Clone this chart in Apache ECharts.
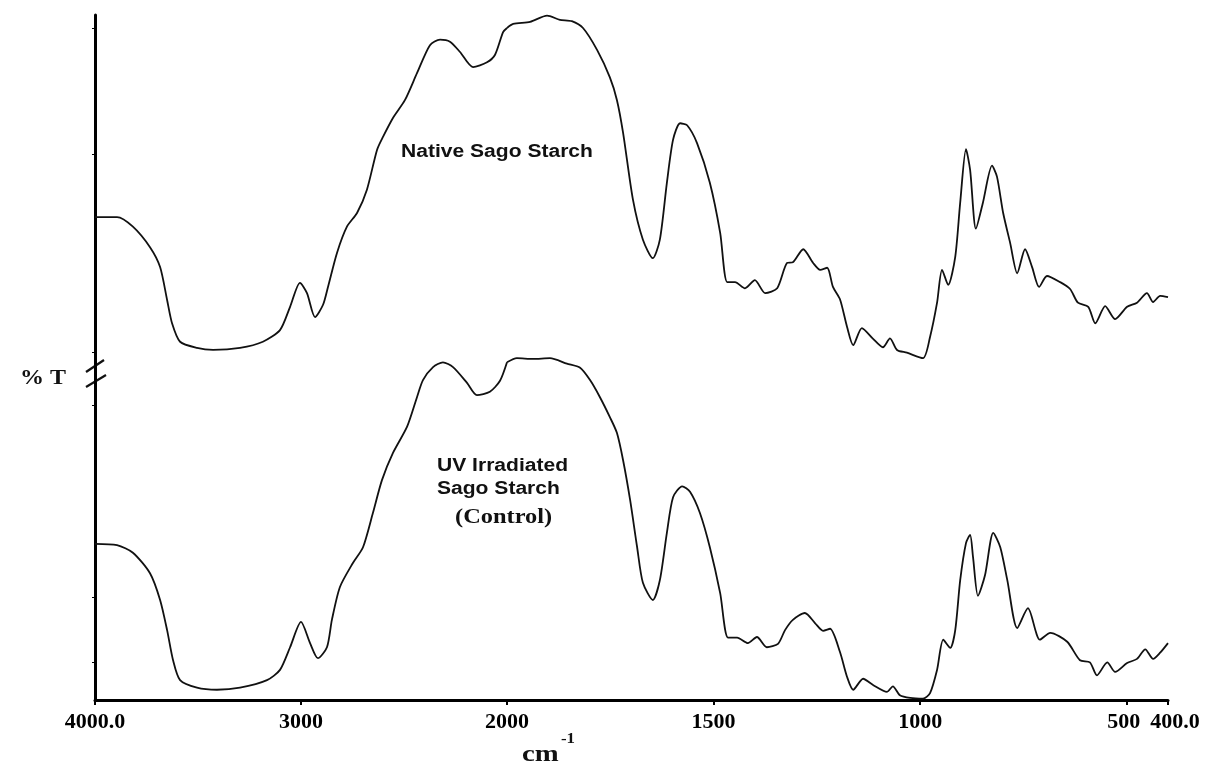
<!DOCTYPE html>
<html>
<head>
<meta charset="utf-8">
<script src="https://cdn.jsdelivr.net/npm/echarts@6/dist/echarts.min.js"></script>
<style>
html,body{margin:0;padding:0;background:#fff;}
#chart{width:1207px;height:769px;}
</style>
</head>
<body>
<div id="chart"></div>
<script>
// Wavenumbers (cm-1) and %T readings (relative scale, 0 = bottom axis, 100 = top of frame)
const nativeWn = [4000,3893,3816,3733,3684,3650,3626,3587,3505,3427,3296,3185,3102,3053,3005,2971,2932,2893,2869,2825,2777,2728,2680,2631,2602,2553,2495,2437,2374,2325,2277,2228,2165,2097,2058,2019,2000,1985,1944,1903,1872,1843,1816,1782,1751,1734,1719,1695,1671,1647,1630,1613,1598,1581,1564,1540,1509,1484,1467,1448,1424,1400,1375,1346,1322,1308,1283,1259,1242,1225,1211,1194,1177,1162,1141,1115,1090,1073,1056,1032,993,976,959,947,932,915,903,889,879,865,848,826,814,799,782,765,746,729,712,693,661,637,618,593,576,552,528,499,475,451,436,419,400];
const nativeT = [70.5,70.5,69.1,66.1,63.2,58.4,55.0,52.3,51.4,51.1,51.4,52.3,54.0,57.4,60.9,59.4,55.9,57.7,60.3,65.3,69.1,71.1,74.5,80.3,82.2,85.0,87.6,91.5,95.6,96.4,96.1,94.6,92.4,93.1,94.2,97.5,98.1,98.7,99.0,99.9,99.3,99.1,98.1,94.9,90.9,87.6,82.8,73.0,67.2,64.5,67.2,75.5,81.8,84.2,83.9,81.3,75.5,68.2,61.0,61.0,60.1,61.3,59.4,60.1,63.8,63.9,65.8,63.8,62.8,63.1,60.3,58.5,54.5,51.8,54.3,52.8,51.5,52.8,51.1,50.7,49.9,53.0,58.0,62.8,60.6,64.7,72.6,80.4,77.4,68.8,72.6,78.0,76.4,71.1,66.7,62.3,65.8,63.2,60.3,61.9,61.0,60.0,58.0,57.4,55.0,57.5,55.6,57.4,58.0,59.4,58.1,59.0,58.8];

const uvWn = [4000,3893,3816,3733,3684,3650,3621,3587,3505,3408,3296,3165,3102,3053,3000,2956,2918,2874,2850,2811,2748,2699,2651,2607,2553,2485,2437,2408,2359,2311,2262,2194,2146,2083,2034,2000,1976,1937,1896,1855,1823,1799,1775,1751,1734,1719,1702,1685,1671,1647,1630,1613,1598,1576,1557,1533,1509,1484,1465,1443,1417,1395,1371,1344,1327,1308,1279,1254,1235,1218,1194,1177,1162,1138,1114,1080,1066,1049,1024,993,976,959,944,927,915,903,889,879,872,860,843,823,806,789,765,739,710,685,644,613,589,572,547,528,499,475,455,436,419,400];
const uvT = [22.8,22.6,21.5,18.5,14.6,10.2,5.8,2.9,1.8,1.5,1.8,2.9,4.4,7.7,11.4,8.3,6.1,7.7,11.7,16.5,20.0,22.3,27.3,32.1,36.1,39.9,44.2,46.7,48.6,49.3,48.6,46.3,44.5,45.0,46.6,49.3,49.9,49.8,49.9,49.1,48.5,46.7,44.2,41.3,39.0,35.0,29.2,22.3,17.1,14.6,17.5,24.4,29.6,31.2,30.4,27.3,22.3,15.6,9.1,9.1,8.3,9.2,7.7,8.2,10.2,11.7,12.7,11.2,10.1,10.4,7.0,3.4,1.5,3.1,2.2,1.2,2.0,0.7,0.3,0.2,1.0,4.4,8.8,7.6,10.2,17.5,22.9,24.1,20.9,15.2,18.2,24.4,22.3,17.5,10.5,13.4,8.8,9.8,8.5,5.8,5.5,3.6,5.5,4.1,5.4,6.0,7.4,6.0,6.9,8.3];

const leftTicks = [4000, 3000, 2000];
const rightTicks = [1500, 1000, 500, 400];
const yTicks = [98.1, 79.7, 50.8, 43.1, 15.0, 5.5];
const labels = { upper: 'Native Sago Starch', lower1: 'UV Irradiated', lower2: 'Sago Starch', lower3: '(Control)', yName: '% T', xName: 'cm', xSup: '-1' };

function part(wn, t, highRange) {
  const out = [];
  for (let i = 0; i < wn.length; i++) {
    if (highRange ? wn[i] >= 2000 : wn[i] <= 2000) out.push([wn[i], t[i]]);
  }
  return out;
}

const chart = echarts.init(document.getElementById('chart'), null, { renderer: 'canvas' });
const ink = '#111';
const lineStyle = { color: ink, width: 1.8 };
const serif = 'Liberation Serif';

const axisLabelStyle = { color: '#000', fontFamily: serif, fontWeight: 'bold', fontSize: 22, margin: 11 };

function mkSeries(data, xi) {
  return { type: 'line', xAxisIndex: xi, yAxisIndex: xi, data: data, showSymbol: false, smooth: 0.25,
    lineStyle: lineStyle, silent: true, animation: false };
}

function txt(text, x, y, font, sx) {
  return { type: 'text', x: x, y: y, scaleX: sx, silent: true,
    style: { text: text, fill: ink, font: font, verticalAlign: 'top', align: 'left' } };
}

chart.setOption({
  backgroundColor: '#fff',
  animation: false,
  grid: [
    { left: 95, top: 15, width: 412, height: 685 },
    { left: 507, top: 15, width: 661, height: 685 }
  ],
  xAxis: [
    { type: 'value', gridIndex: 0, min: 2000, max: 4000, interval: 1000, inverse: true,
      axisLine: { show: true, lineStyle: { color: '#000', width: 3 } },
      axisTick: { show: true, length: 5, lineStyle: { color: '#000', width: 2 }, customValues: leftTicks },
      axisLabel: Object.assign({}, axisLabelStyle, { customValues: leftTicks, formatter: v => v === 4000 ? '4000.0' : String(v) }),
      splitLine: { show: false } },
    { type: 'value', gridIndex: 1, min: 400, max: 2000, inverse: true,
      axisLine: { show: true, lineStyle: { color: '#000', width: 3 } },
      axisTick: { show: true, length: 5, lineStyle: { color: '#000', width: 2 }, customValues: rightTicks },
      axisLabel: Object.assign({}, axisLabelStyle, {
        customValues: rightTicks,
        formatter: v => v === 400 ? '{end|400.0}' : (v === 500 ? '{five|500}' : String(v)),
        rich: {
          end: { fontFamily: serif, fontWeight: 'bold', fontSize: 22, color: '#000', padding: [0, 0, 0, 14] },
          five: { fontFamily: serif, fontWeight: 'bold', fontSize: 22, color: '#000', padding: [0, 6, 0, 0] }
        }
      }),
      splitLine: { show: false } }
  ],
  yAxis: [
    { type: 'value', gridIndex: 0, min: 0, max: 100,
      axisLine: { show: true, lineStyle: { color: '#000', width: 3 } },
      axisTick: { show: true, length: 3, lineStyle: { color: '#000', width: 1 }, customValues: yTicks },
      axisLabel: { show: false }, splitLine: { show: false } },
    { type: 'value', gridIndex: 1, min: 0, max: 100, show: false, splitLine: { show: false } }
  ],
  series: [
    mkSeries(part(nativeWn, nativeT, true), 0),
    mkSeries(part(nativeWn, nativeT, false), 1),
    mkSeries(part(uvWn, uvT, true), 0),
    mkSeries(part(uvWn, uvT, false), 1)
  ],
  graphic: [
    txt(labels.upper, 401, 143, 'bold 18px "Liberation Sans"', 1.17),
    txt(labels.lower1, 437, 457, 'bold 18px "Liberation Sans"', 1.17),
    txt(labels.lower2, 437, 480, 'bold 18px "Liberation Sans"', 1.17),
    txt(labels.lower3, 455, 508, 'bold 20px "Liberation Serif"', 1.22),
    txt(labels.yName, 20, 369, 'bold 20px "Liberation Serif"', 1.2),
    txt(labels.xName, 522, 744, 'bold 23px "Liberation Serif"', 1.25),
    txt(labels.xSup, 561, 732, 'bold 14px "Liberation Serif"', 1.2),
    { type: 'line', silent: true, shape: { x1: 86, y1: 372, x2: 104, y2: 360 }, style: { stroke: ink, lineWidth: 2.2 } },
    { type: 'line', silent: true, shape: { x1: 86, y1: 387, x2: 106, y2: 375 }, style: { stroke: ink, lineWidth: 2.2 } }
  ]
});
</script>
</body>
</html>
